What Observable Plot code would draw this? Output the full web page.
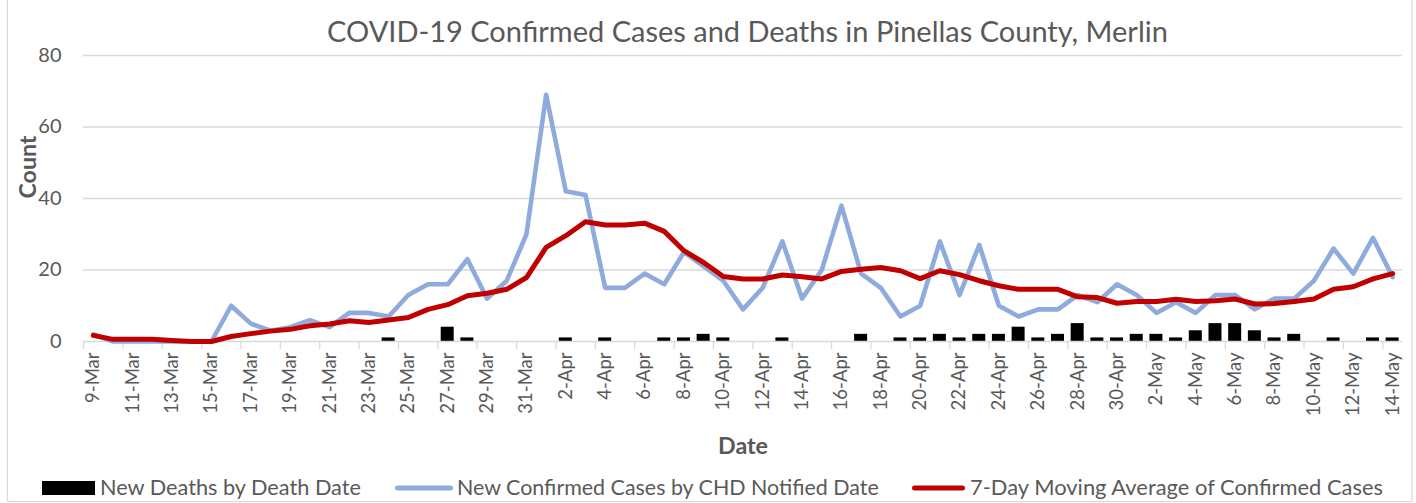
<!DOCTYPE html>
<html>
<head>
<meta charset="utf-8">
<script src="https://cdn.jsdelivr.net/npm/d3@7"></script>
<script src="https://cdn.jsdelivr.net/npm/@observablehq/plot@0.6"></script>
<style>
  html, body { margin: 0; padding: 0; background: #fff; overflow: hidden; }
  #wrap { position: relative; width: 1416px; height: 503px; overflow: hidden; font-family: Lato, "Open Sans", sans-serif; }
  #chart { position: absolute; left: 0; top: 0; }
  #overlay { position: absolute; left: 0; top: 0; pointer-events: none; }
</style>
</head>
<body>
<div id="wrap">
  <div id="chart"></div>
  <svg id="overlay" width="1416" height="503"></svg>
</div>
<script>
// ---- data ----
const dates = ["9-Mar","10-Mar","11-Mar","12-Mar","13-Mar","14-Mar","15-Mar","16-Mar","17-Mar","18-Mar",
  "19-Mar","20-Mar","21-Mar","22-Mar","23-Mar","24-Mar","25-Mar","26-Mar","27-Mar","28-Mar",
  "29-Mar","30-Mar","31-Mar","1-Apr","2-Apr","3-Apr","4-Apr","5-Apr","6-Apr","7-Apr",
  "8-Apr","9-Apr","10-Apr","11-Apr","12-Apr","13-Apr","14-Apr","15-Apr","16-Apr","17-Apr",
  "18-Apr","19-Apr","20-Apr","21-Apr","22-Apr","23-Apr","24-Apr","25-Apr","26-Apr","27-Apr",
  "28-Apr","29-Apr","30-Apr","1-May","2-May","3-May","4-May","5-May","6-May","7-May",
  "8-May","9-May","10-May","11-May","12-May","13-May","14-May"];

const tickLabels = ["9-Mar","11-Mar","13-Mar","15-Mar","17-Mar","19-Mar","21-Mar","23-Mar","25-Mar","27-Mar",
  "29-Mar","31-Mar","2-Apr","4-Apr","6-Apr","8-Apr","10-Apr","12-Apr","14-Apr","16-Apr",
  "18-Apr","20-Apr","22-Apr","24-Apr","26-Apr","28-Apr","30-Apr","2-May","4-May","6-May",
  "8-May","10-May","12-May","14-May"];

const newCases = [2,0,0,0,0,0,0,10,5,3,
  4,6,4,8,8,7,13,16,16,23,
  12,17,30,69,42,41,15,15,19,16,
  25,21,17,9,15,28,12,20,38,19,
  15,7,10,28,13,27,10,7,9,9,
  13,11,16,13,8,11,8,13,13,9,
  12,12,17,26,19,29,18];

const movingAvg = [1.7,0.6,0.6,0.6,0.3,0,0,1.4,2.2,2.9,
  3.4,4.4,4.9,5.8,5.3,6,6.7,9,10.3,12.8,
  13.5,14.6,17.9,26.3,29.6,33.5,32.6,32.6,33.1,30.8,
  25.4,22.1,18.2,17.5,17.5,18.6,18.1,17.5,19.6,20.2,
  20.7,19.8,17.6,19.8,18.7,17,15.6,14.6,14.6,14.6,
  12.5,12.3,10.7,11.2,11.2,11.8,11.2,11.4,11.9,10.5,
  10.6,11.2,11.9,14.6,15.3,17.5,19];

const newDeaths = [0,0,0,0,0,0,0,0,0,0,
  0,0,0,0,0,1,0,0,4,1,
  0,0,0,0,1,0,1,0,0,1,
  1,2,1,0,0,1,0,0,0,2,
  0,1,1,2,1,2,2,4,1,2,
  5,1,1,2,2,1,3,5,5,3,
  1,2,0,1,0,1,1];

const yTicks = [0, 20, 40, 60, 80];

const titleText = "COVID-19 Confirmed Cases and Deaths in Pinellas County, Merlin";
const seriesNames = ["New Deaths by Death Date", "New Confirmed Cases by CHD Notified Date", "7-Day Moving Average of Confirmed Cases"];
const seriesColors = ["#000000", "#8FAADC", "#C00000"];

// ---- tables ----
const rows = dates.map((d, i) => ({date: d, cases: newCases[i], avg: movingAvg[i], deaths: newDeaths[i]}));

// ---- helpers ----
const ctx = document.createElement("canvas").getContext("2d");
function fitSize(text, target, weight = "normal") {
  ctx.font = `${weight} 100px Lato`;
  return 100 * target / ctx.measureText(text).width;
}

const W = 1416, H = 470;
const mL = 83, mR = 14, mT = 55, mB = 129;
const step = (W - mL - mR) / dates.length;
const textColor = "#595959";
const gridColor = "#d9d9d9";

const chart = Plot.plot({
  width: W, height: H,
  marginLeft: mL, marginRight: mR, marginTop: mT, marginBottom: mB,
  style: {fontFamily: "Lato, 'Open Sans', sans-serif", color: textColor, background: "transparent", overflow: "visible"},
  x: {type: "band", domain: dates, paddingInner: 0.34, paddingOuter: 0.17, label: null},
  y: {domain: [0, 80], label: null},
  marks: [
    Plot.ruleY(yTicks.filter(d => d > 0), {stroke: gridColor, strokeWidth: 1.3}),
    Plot.barY(rows, {x: "date", y: "deaths", fill: seriesColors[0]}),
    Plot.ruleY([0], {stroke: gridColor, strokeWidth: 1.6}),
    Plot.axisX({ticks: tickLabels, tickSize: 8, dx: -step / 2, stroke: gridColor, strokeWidth: 1.3, text: null, label: null}),
    Plot.axisX({ticks: tickLabels, tickSize: 0, tickPadding: 11, tickRotate: -90, fontSize: 18.5, fill: textColor, label: null}),
    Plot.axisY({ticks: yTicks, tickSize: 0, tickPadding: 22, fontSize: 20, fill: textColor, label: null}),
    Plot.line(rows, {x: "date", y: "cases", stroke: seriesColors[1], strokeWidth: 4.6, strokeLinejoin: "round", strokeLinecap: "round"}),
    Plot.line(rows, {x: "date", y: "avg", stroke: seriesColors[2], strokeWidth: 5, strokeLinejoin: "round", strokeLinecap: "round"}),
    Plot.text(["Count"], {frameAnchor: "left", dx: -55, rotate: -90, fontWeight: "bold", fontSize: fitSize("Count", 63, "bold"), fill: textColor}),
    Plot.text(["Date"], {frameAnchor: "bottom", dy: 112, fontWeight: "bold", fontSize: fitSize("Date", 50, "bold"), fill: textColor})
  ]
});
document.getElementById("chart").appendChild(chart);

// ---- title, legend, border ----
const ov = d3.select("#overlay");
ov.append("text")
  .attr("x", 747.5).attr("y", 41.5)
  .attr("text-anchor", "middle")
  .attr("font-family", "Lato, 'Open Sans', sans-serif")
  .attr("font-size", fitSize(titleText, 841))
  .attr("fill", textColor)
  .text(titleText);

const legendItems = [
  {name: seriesNames[0], color: seriesColors[0], kind: "rect", x0: 42, x1: 95, tx: 100, tw: 262},
  {name: seriesNames[1], color: seriesColors[1], kind: "line", x0: 395, x1: 453, tx: 457, tw: 423},
  {name: seriesNames[2], color: seriesColors[2], kind: "line", x0: 912, x1: 965, tx: 970, tw: 415}
];
const legendBase = 495;
const lg = ov.append("g");
legendItems.forEach(it => {
  if (it.kind === "rect") {
    lg.append("rect").attr("x", it.x0).attr("y", legendBase - 14).attr("width", it.x1 - it.x0).attr("height", 14).attr("fill", it.color);
  } else {
    lg.append("line").attr("x1", it.x0 + 2.5).attr("x2", it.x1 - 2.5).attr("y1", legendBase - 7).attr("y2", legendBase - 7)
      .attr("stroke", it.color).attr("stroke-width", 5).attr("stroke-linecap", "round");
  }
  lg.append("text").attr("x", it.tx).attr("y", legendBase)
    .attr("font-family", "Lato, 'Open Sans', sans-serif")
    .attr("font-size", fitSize(it.name, it.tw))
    .attr("fill", textColor)
    .text(it.name);
});
ov.append("rect").attr("x", 7.5).attr("y", -2).attr("width", 1404.5).attr("height", 503.5)
  .attr("fill", "none").attr("stroke", gridColor).attr("stroke-width", 1.2);
</script>
</body>
</html>
